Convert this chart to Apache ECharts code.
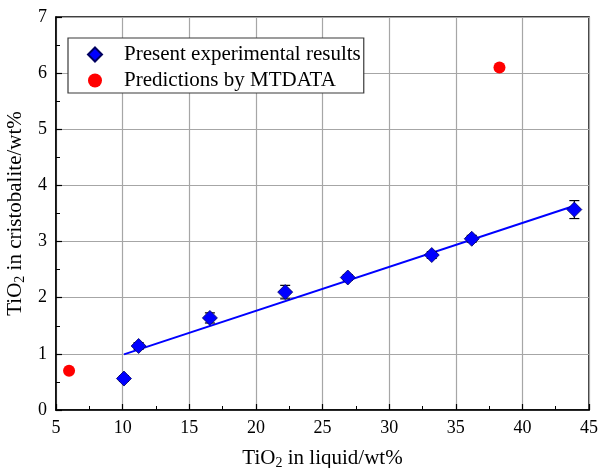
<!DOCTYPE html>
<html>
<head>
<meta charset="utf-8">
<script src="https://cdn.jsdelivr.net/npm/echarts@6/dist/echarts.min.js"></script>
<style>
  html, body { margin: 0; padding: 0; background: #fff; }
  #chart { width: 598px; height: 468px; }
</style>
</head>
<body>
<div id="chart"></div>
<script>
// TiO2 content of liquid (x) vs. cristobalite (y), wt%
const expX = [10.1, 11.2, 16.55, 22.2, 26.9, 33.2, 36.2, 43.9];
const expY = [0.56, 1.14, 1.64, 2.10, 2.36, 2.76, 3.05, 3.57];
const expErr = [0.05, 0.06, 0.09, 0.12, 0.05, 0.06, 0.06, 0.16];

const mtdataX = [5.98, 38.28];
const mtdataY = [0.70, 6.10];

// Linear fit through the experimental points
const fitX = [10.1, 43.8];
const fitY = [0.99, 3.63];

const xTicks = [5, 10, 15, 20, 25, 30, 35, 40, 45];
const yTicks = [0, 1, 2, 3, 4, 5, 6, 7];

const serif = 'Liberation Serif';

const chart = echarts.init(document.getElementById('chart'), null, { renderer: 'canvas' });

const expData = expX.map((x, i) => [x, expY[i]]);
const errData = expX.map((x, i) => [x, expY[i] - expErr[i], expY[i] + expErr[i]]);
const mtData = mtdataX.map((x, i) => [x, mtdataY[i]]);
const fitData = fitX.map((x, i) => [x, fitY[i]]);

const nameStyle = {
  fontFamily: serif, fontSize: 21, color: '#000',
  rich: { sub: { fontFamily: serif, fontSize: 14, color: '#000', verticalAlign: 'bottom', padding: [10, 0, 0, 0] } }
};

function axisCommon() {
  return {
    axisLine: { show: true, onZero: false, lineStyle: { color: '#000', width: 1.5 } },
    axisTick: { show: true, inside: true, length: 6, lineStyle: { color: '#000', width: 1.2 } },
    minorTick: { show: true, splitNumber: 2, length: 4, lineStyle: { color: '#000', width: 1 } },
    splitLine: { show: true, lineStyle: { color: '#a6a6a6', width: 1.2 } },
    axisLabel: { fontFamily: serif, fontSize: 18, color: '#000', margin: 9 }
  };
}

const option = {
  animation: false,
  backgroundColor: '#fff',
  grid: {
    left: 56, right: 9, top: 17, bottom: 58,
    outerBoundsMode: 'none',
    containLabel: false,
    show: true, borderColor: '#000', borderWidth: 1.5
  },
  legend: {
    left: 68, top: 38,
    orient: 'vertical',
    backgroundColor: '#fff',
    borderColor: '#3a3a3a',
    borderWidth: 1.2,
    borderRadius: 0,
    padding: [6, 3, 2, 19],
    itemGap: 5,
    itemWidth: 14,
    itemHeight: 14,
    data: [
      { name: 'Present experimental results', icon: 'diamond' },
      { name: 'Predictions by MTDATA', icon: 'circle' }
    ],
    textStyle: { fontFamily: serif, fontSize: 21, color: '#000', padding: [0, 0, 0, 17] }
  },
  xAxis: Object.assign(axisCommon(), {
    type: 'value',
    min: xTicks[0], max: xTicks[xTicks.length - 1], interval: 5,
    name: 'TiO{sub|2} in liquid/wt%',
    nameLocation: 'middle',
    nameGap: 36,
    nameTextStyle: nameStyle
  }),
  yAxis: Object.assign(axisCommon(), {
    type: 'value',
    min: yTicks[0], max: yTicks[yTicks.length - 1], interval: 1,
    name: 'TiO{sub|2} in cristobalite/wt%',
    nameLocation: 'middle',
    nameGap: 26,
    nameTextStyle: nameStyle
  }),
  series: [
    {
      name: 'fit',
      type: 'line',
      data: fitData,
      symbol: 'none',
      lineStyle: { color: '#0000ff', width: 2 },
      z: 2,
      silent: true
    },
    {
      name: 'errors',
      type: 'custom',
      data: errData,
      z: 3,
      renderItem: function (params, api) {
        const x = api.value(0);
        const lo = api.coord([x, api.value(1)]);
        const hi = api.coord([x, api.value(2)]);
        const half = 5;
        const style = { stroke: '#000', lineWidth: 1.2, fill: null };
        return {
          type: 'group',
          children: [
            { type: 'line', shape: { x1: lo[0], y1: lo[1], x2: hi[0], y2: hi[1] }, style: style },
            { type: 'line', shape: { x1: lo[0] - half, y1: lo[1], x2: lo[0] + half, y2: lo[1] }, style: style },
            { type: 'line', shape: { x1: hi[0] - half, y1: hi[1], x2: hi[0] + half, y2: hi[1] }, style: style }
          ]
        };
      }
    },
    {
      name: 'Present experimental results',
      type: 'scatter',
      data: expData,
      symbol: 'diamond',
      symbolSize: 15,
      itemStyle: { color: '#0000ff', borderColor: '#000060', borderWidth: 0.8, opacity: 1 },
      z: 4
    },
    {
      name: 'Predictions by MTDATA',
      type: 'scatter',
      data: mtData,
      symbol: 'circle',
      symbolSize: 12,
      itemStyle: { color: '#ff0000', opacity: 1 },
      z: 4
    }
  ]
};

chart.setOption(option);
</script>
</body>
</html>
